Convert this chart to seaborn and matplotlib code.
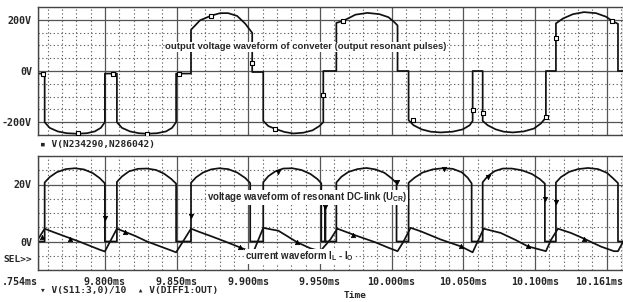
import numpy as np
import pandas as pd
import matplotlib
matplotlib.use("Agg")
import matplotlib.pyplot as plt
import seaborn as sns
from matplotlib.ticker import MultipleLocator, FixedLocator

# time axis (ms) shared by both panels
XLIM = (9.7530, 10.1615)
x_ticks = [9.7530, 9.80, 9.85, 9.90, 9.95, 10.00, 10.05, 10.10, 10.15, 10.1615]
x_ticklabels = [".754ms", "9.800ms", "9.850ms", "9.900ms", "9.950ms", "10.000ms",
                "10.050ms", "10.100ms", "", "10.161ms"]

# top panel: converter output voltage V(N234290,N286042)
top_t = [9.7524, 9.7580, 9.7580, 9.7615, 9.7671, 9.7734, 9.7804, 9.7874, 9.7930, 9.7972,
         9.8000, 9.8000, 9.8084, 9.8084, 9.8119, 9.8175, 9.8238, 9.8294, 9.8364, 9.8427,
         9.8469, 9.8497, 9.8497, 9.8601, 9.8601, 9.8664, 9.8741, 9.8804, 9.8860, 9.8923,
         9.8979, 9.9028, 9.9028, 9.9105, 9.9105, 9.9140, 9.9189, 9.9252, 9.9315, 9.9385,
         9.9448, 9.9497, 9.9524, 9.9524, 9.9615, 9.9615, 9.9664, 9.9748, 9.9832, 9.9916,
         9.9979, 10.0021, 10.0042, 10.0042, 10.0119, 10.0119, 10.0154, 10.0210, 10.0273, 10.0343,
         10.0427, 10.0497, 10.0545, 10.0566, 10.0566, 10.0636, 10.0636, 10.0671, 10.0727, 10.0783,
         10.0846, 10.0923, 10.0993, 10.1042, 10.1077, 10.1077, 10.1147, 10.1147, 10.1196, 10.1266,
         10.1343, 10.1427, 10.1497, 10.1538, 10.1580, 10.1580, 10.1622]
top_v = [-10, -10, -200, -222, -236, -243, -245, -243, -236, -222,
         -200, -10, -10, -200, -222, -236, -243, -245, -243, -236,
         -222, -200, -10, -10, 161, 198, 216, 226, 226, 215,
         185, 149, -4, -4, -195, -215, -226, -238, -244, -241,
         -232, -215, -200, 0, 0, 188, 196, 220, 227, 222,
         210, 190, 178, 0, 0, -192, -212, -228, -237, -240,
         -237, -228, -212, -195, 0, 0, -195, -212, -228, -237,
         -240, -236, -225, -205, -182, 0, 0, 186, 205, 222,
         230, 226, 212, 196, 184, 0, 0]
top_mk_t = [9.7566, 9.7811, 9.8056, 9.8294, 9.8517, 9.8741, 9.9028, 9.9189,
            9.9524, 9.9664, 10.0147, 10.0566, 10.0636, 10.1077, 10.1147, 10.1538]
top_mk_v = [-10, -244, -10, -245, -10, 216, 32, -226, -94, 196, -190, -153, -165, -180, 129, 196]

# bottom panel: resonant DC-link voltage V(S11:3,0)/10
dc_t = [9.7524, 9.7580, 9.7580, 9.7615, 9.7664, 9.7727, 9.7790, 9.7853, 9.7916, 9.7965,
        9.8000, 9.8000, 9.8084, 9.8084, 9.8119, 9.8168, 9.8231, 9.8294, 9.8357, 9.8413,
        9.8462, 9.8497, 9.8497, 9.8601, 9.8601, 9.8636, 9.8685, 9.8741, 9.8797, 9.8860,
        9.8923, 9.8979, 9.9014, 9.9014, 9.9105, 9.9105, 9.9140, 9.9189, 9.9245, 9.9308,
        9.9371, 9.9434, 9.9483, 9.9510, 9.9510, 9.9538, 9.9538, 9.9538, 9.9615, 9.9615,
        9.9650, 9.9699, 9.9762, 9.9825, 9.9888, 9.9951, 10.0000, 10.0035, 10.0035, 10.0119,
        10.0119, 10.0161, 10.0217, 10.0287, 10.0357, 10.0427, 10.0490, 10.0531, 10.0559, 10.0559,
        10.0636, 10.0636, 10.0671, 10.0720, 10.0776, 10.0839, 10.0909, 10.0979, 10.1035, 10.1070,
        10.1070, 10.1147, 10.1147, 10.1182, 10.1238, 10.1301, 10.1371, 10.1441, 10.1503, 10.1545,
        10.1580, 10.1580, 10.1622]
dc_v = [0, 0, 20.7, 22.6, 24.3, 25.4, 25.7, 25.3, 24.0, 22.2,
        20.4, 0, 0, 20.9, 22.8, 24.6, 25.5, 25.6, 25.1, 23.8,
        22.0, 20.3, 0, 0, 20.6, 22.5, 24.2, 25.3, 25.7, 25.4,
        24.2, 22.3, 20.5, 0, 0, 20.8, 22.9, 24.6, 25.6, 25.7,
        25.1, 23.7, 21.9, 20.4, 0, 0, 12.0, 0, 0, 20.7,
        22.7, 24.4, 25.4, 25.8, 25.3, 24.1, 22.2, 20.5, 0, 0,
        20.6, 22.4, 24.2, 25.3, 25.7, 25.5, 24.3, 22.4, 20.4, 0,
        0, 20.8, 22.9, 24.7, 25.6, 25.6, 25.0, 23.7, 21.9, 20.3,
        0, 0, 20.7, 22.6, 24.4, 25.4, 25.8, 25.4, 24.1, 22.2,
        20.5, 0, 0]
dc_mk_t = [9.8000, 9.8601, 9.9210, 9.9538, 10.0035, 10.0364, 10.0671, 10.1070, 10.1147]
dc_mk_v = [8.3, 9.0, 24.5, 12.0, 21.0, 25.6, 22.6, 15.0, 13.8]

# bottom panel: resonant current I_L - I_O, V(DIFF1:OUT)
cur_t = [9.7524, 9.7580, 9.7636, 9.7706, 9.7825, 9.7895, 9.7965, 9.8000, 9.8042, 9.8084,
         9.8140, 9.8210, 9.8294, 9.8385, 9.8455, 9.8497, 9.8545, 9.8601, 9.8657, 9.8734,
         9.8839, 9.8944, 9.9007, 9.9042, 9.9070, 9.9105, 9.9154, 9.9210, 9.9343, 9.9434,
         9.9503, 9.9573, 9.9622, 9.9734, 9.9888, 9.9979, 10.0042, 10.0084, 10.0133, 10.0203,
         10.0343, 10.0483, 10.0566, 10.0601, 10.0643, 10.0762, 10.0867, 10.0951, 10.1077, 10.1112,
         10.1161, 10.1252, 10.1343, 10.1462, 10.1552, 10.1580, 10.1622]
cur_v = [0.0, 4.5, 3.4, 2.1, -0.1, -1.5, -2.9, -3.5, 0.5, 4.5,
         3.4, 2.0, 0.0, -1.7, -3.0, -3.8, 0.0, 4.5, 3.4, 2.0,
         0.0, -2.1, -3.3, -3.0, 0.5, 4.8, 4.3, 3.8, -0.3, -2.4,
         -3.4, 0.7, 4.5, 2.4, -0.3, -2.2, -3.4, 0.0, 4.8, 3.6,
         0.7, -1.7, -3.8, 0.0, 4.5, 3.0, 0.5, -1.7, -3.4, 0.5,
         4.5, 3.0, 1.0, -1.8, -3.4, -3.4, 0.5]
cur_mk_t = [9.7559, 9.7755, 9.8140, 9.8944, 9.9343, 9.9734, 10.0483, 10.0951, 10.1343]
cur_mk_v = [1.7, 1.0, 3.4, -2.1, -0.3, 2.4, -1.7, -1.7, 1.0]

sns.set_theme(style="white")
plt.rcParams["font.family"] = ["DejaVu Sans Mono", "DejaVu Sans"]
plt.rcParams["mathtext.fontset"] = "custom"
plt.rcParams["mathtext.bf"] = "Liberation Sans:bold"
plt.rcParams["mathtext.rm"] = "Liberation Sans:bold"

W, H = 623, 302
fig = plt.figure(figsize=(W / 100, H / 100), dpi=100)
ax1 = fig.add_axes([37.5 / W, 1 - 135 / H, 585.5 / W, 128 / H])
ax2 = fig.add_axes([37.5 / W, 1 - 270 / H, 585.5 / W, 114 / H])


def pspice_grid(ax, yticks, ylabels, ystep, ylim):
    ax.set_xlim(XLIM)
    ax.set_ylim(ylim)
    ax.xaxis.set_major_locator(FixedLocator(x_ticks))
    ax.xaxis.set_minor_locator(MultipleLocator(0.01))
    ax.set_yticks(yticks, ylabels)
    ax.yaxis.set_minor_locator(MultipleLocator(ystep))
    ax.grid(which="major", color="#555555", lw=0.9, ls="-")
    ax.grid(which="minor", color="#666666", lw=0.8, ls=(0, (1.2, 2.2)))
    ax.set_axisbelow(True)
    ax.tick_params(which="both", length=0, pad=4)
    for lab in ax.get_yticklabels():
        lab.set_fontsize(7.2)
        lab.set_fontweight("bold")
    for s in ax.spines.values():
        s.set_color("#444444")
        s.set_linewidth(1.0)
    ax.spines["right"].set_visible(False)
    ax.set_xlabel("")
    ax.set_ylabel("")


note_style = dict(family="Liberation Sans", weight="bold", ha="left", va="center",
                  bbox=dict(facecolor="white", edgecolor="none", pad=0.3), zorder=6)

# top panel
sns.lineplot(x=top_t, y=top_v, ax=ax1, sort=False, estimator=None,
             color="#111111", lw=1.25)
sns.scatterplot(x=top_mk_t, y=top_mk_v, ax=ax1, marker="s", s=9,
                color="white", edgecolor="black", linewidth=0.8, zorder=5)
pspice_grid(ax1, [-200, 0, 200], ["-200V", "0V", "200V"], 50, (-250, 250))
ax1.set_xticklabels([])
ax1.text(9.8420, 94, "output voltage waveform of conveter (output resonant pulses)",
         fontsize=6.8, **note_style)

# bottom panel
sns.lineplot(x=dc_t, y=dc_v, ax=ax2, sort=False, estimator=None,
             color="#111111", lw=1.25)
sns.lineplot(x=cur_t, y=cur_v, ax=ax2, sort=False, estimator=None,
             color="#111111", lw=1.25)
sns.scatterplot(x=dc_mk_t, y=dc_mk_v, ax=ax2, marker="v", s=10,
                color="black", edgecolor="black", linewidth=0.5, zorder=5)
sns.scatterplot(x=cur_mk_t, y=cur_mk_v, ax=ax2, marker="^", s=10,
                color="black", edgecolor="black", linewidth=0.5, zorder=5)
pspice_grid(ax2, [0, 20], ["0V", "20V"], 5, (-10, 30))
ax2.set_xticklabels(x_ticklabels, fontsize=7.2, fontweight="bold")
ax2.tick_params(axis="x", pad=5)
xl = ax2.get_xticklabels()
xl[0].set_ha("right")
xl[-1].set_ha("right")

ax2.text(9.8713, 15.5, r"voltage waveform of resonant DC-link (U$_{\mathbf{CR}}$)",
         fontsize=6.9, **note_style)
ax2.text(9.8978, -5.2, r"current waveform I$_{\mathbf{L}}$ - I$_{\mathbf{O}}$",
         fontsize=6.9, **note_style)

# PSpice style trace legends and labels
fig.text(40 / W, 1 - 145 / H, "\u25aa V(N234290,N286042)", fontsize=6.8,
         fontweight="bold", va="center", ha="left")
fig.text(40 / W, 1 - 290 / H, "\u25be V(S11:3,0)/10  \u25b4 V(DIFF1:OUT)", fontsize=6.8,
         fontweight="bold", va="center", ha="left")
fig.text(355 / W, 1 - 295 / H, "Time", fontsize=6.8, fontweight="bold",
         va="center", ha="center")
fig.text(3 / W, 1 - 259 / H, "SEL>>", fontsize=6.8, fontweight="bold",
         va="center", ha="left")

fig.savefig("out.png", dpi=100)
